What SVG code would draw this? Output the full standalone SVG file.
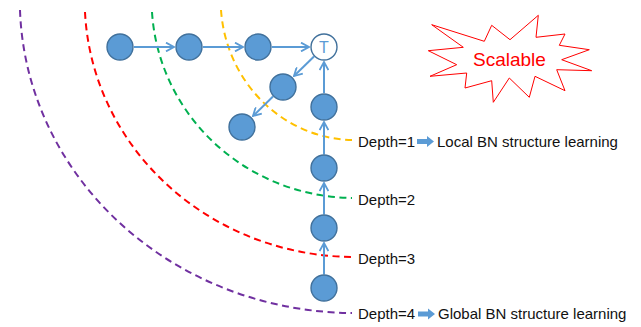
<svg xmlns="http://www.w3.org/2000/svg" width="641" height="327" viewBox="0 0 641 327">
<style>
.node{fill:#5B9BD5;stroke:#41719C;stroke-width:1.4}
.tnode{fill:#FFFFFF;stroke:#41719C;stroke-width:1.4}
.edge{stroke:#5B9BD5;stroke-width:2;fill:none;marker-end:url(#ah)}
.arc{fill:none;stroke-width:2;stroke-dasharray:7 4.5}
.lbl{font-family:"Liberation Sans",Arial,sans-serif;font-size:15px;fill:#111}
.blk{fill:#5B9BD5}
</style>
<defs>
<marker id="ah" viewBox="0 0 10 10" refX="9" refY="5" markerWidth="10" markerHeight="10" markerUnits="userSpaceOnUse" orient="auto">
<path d="M1,0.6 L9,5 L1,9.4" fill="none" stroke="#5B9BD5" stroke-width="1.8"/>
</marker>
<path id="blkarrow" d="M0,-2.6 L10,-2.6 L10,-5.5 L17,0 L10,5.5 L10,2.6 L0,2.6 Z"/>
</defs>
<g id="arcs">
<path class="arc" stroke="#FFC000" d="M221,10 A134.3,140 0 0 0 352,140"/>
<path class="arc" stroke="#00B050" d="M152,12 A203.4,198 0 0 0 352,198"/>
<path class="arc" stroke="#FF0000" d="M85,12 A270.3,257 0 0 0 352,257"/>
<path class="arc" stroke="#7030A0" d="M20,10 A335.2,313 0 0 0 352,313"/>
</g>
<g id="connectors">
<line class="edge" x1="134" y1="47" x2="174" y2="47"/>
<line class="edge" x1="203" y1="47" x2="243" y2="47"/>
<line class="edge" x1="272" y1="47" x2="309" y2="47"/>
<line class="edge" x1="314" y1="56.5" x2="294" y2="76"/>
<line class="edge" x1="273" y1="96.5" x2="253" y2="116"/>
<line class="edge" x1="324" y1="93" x2="324" y2="62"/>
<line class="edge" x1="324" y1="154.5" x2="324" y2="122"/>
<line class="edge" x1="324" y1="214.5" x2="324" y2="183"/>
<line class="edge" x1="324" y1="274.5" x2="324" y2="243"/>
</g>
<g id="n1"><circle class="node" cx="120" cy="47" r="13"/></g>
<g id="n2"><circle class="node" cx="189" cy="47" r="13"/></g>
<g id="n3"><circle class="node" cx="258" cy="47" r="13"/></g>
<g id="nT"><circle class="tnode" cx="324" cy="47" r="13"/><text x="324" y="53.3" text-anchor="middle" font-family="Liberation Sans, Arial, sans-serif" font-size="16" fill="#5B9BD5">T</text></g>
<g id="c1"><circle class="node" cx="283" cy="87" r="13"/></g>
<g id="c2"><circle class="node" cx="242" cy="127" r="13"/></g>
<g id="p1"><circle class="node" cx="324" cy="107" r="13"/></g>
<g id="p2"><circle class="node" cx="324" cy="168" r="13"/></g>
<g id="p3"><circle class="node" cx="324" cy="228" r="13"/></g>
<g id="p4"><circle class="node" cx="324" cy="288" r="13"/></g>
<g id="labels">
<text class="lbl" x="358" y="146.5">Depth=1</text>
<use href="#blkarrow" class="blk" x="417" y="141.5"/>
<text class="lbl" x="437" y="146.5">Local BN structure learning</text>
<text class="lbl" x="358" y="205">Depth=2</text>
<text class="lbl" x="358" y="263.5">Depth=3</text>
<text class="lbl" x="358" y="319">Depth=4</text>
<use href="#blkarrow" class="blk" x="418" y="314"/>
<text class="lbl" x="438" y="319">Global BN structure learning</text>
</g>
<g id="scalable">
<polygon points="431.7,24.7 484.3,41.3 491.7,25.3 510,39.7 538.3,15.3 536,37.3 565,34 559.3,45.3 589.3,49.7 561.7,59.7 591.7,70.7 556.7,69.7 565,90.7 535,76.3 529.3,97.3 509.3,78 493.3,102.3 491.7,80.7 465,88 466.7,73 430,76.3 456.7,64.7 428.3,50.7 463.3,47.3" fill="#FFFFFF" stroke="#FF0000" stroke-width="1"/>
<text x="473" y="66.3" font-family="Liberation Sans, Arial, sans-serif" font-size="19" fill="#FF0000">Scalable</text>
</g>
</svg>
